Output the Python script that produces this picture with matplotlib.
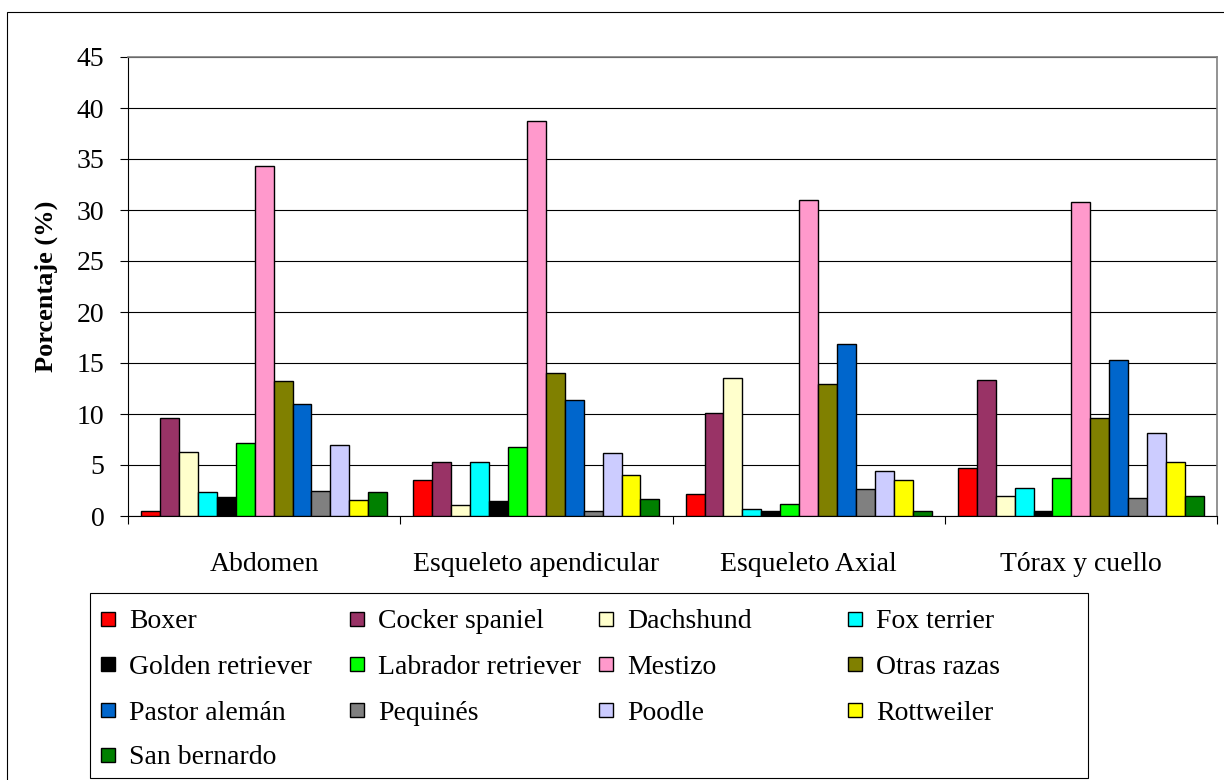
import matplotlib
matplotlib.use("Agg")
import matplotlib.pyplot as plt
from matplotlib.patches import Rectangle
import numpy as np

plt.rcParams['font.family'] = ['Liberation Serif', 'DejaVu Serif']

# Regions (x categories)
regions = ["Abdomen", "Esqueleto apendicular", "Esqueleto Axial", "Tórax y cuello"]

# Breeds (series) and their fill colours
breeds = ["Boxer", "Cocker spaniel", "Dachshund", "Fox terrier",
          "Golden retriever", "Labrador retriever", "Mestizo", "Otras razas",
          "Pastor alemán", "Pequinés", "Poodle", "Rottweiler", "San bernardo"]
colors = ["#FF0000", "#993366", "#FFFFCC", "#00FFFF",
          "#000000", "#00FF00", "#FF99CC", "#808000",
          "#0066CC", "#808080", "#CCCCFF", "#FFFF00", "#008000"]

# Percentage per breed, one value per region (same order as `regions`)
boxer = [0.5, 3.5, 2.2, 4.7]
cocker = [9.6, 5.3, 10.1, 13.3]
dachshund = [6.3, 1.1, 13.5, 2.0]
fox_terrier = [2.4, 5.3, 0.7, 2.7]
golden = [1.9, 1.5, 0.5, 0.5]
labrador = [7.2, 6.8, 1.2, 3.7]
mestizo = [34.3, 38.7, 31.0, 30.8]
otras = [13.2, 14.0, 12.9, 9.6]
pastor = [11.0, 11.4, 16.9, 15.3]
pequines = [2.5, 0.5, 2.6, 1.8]
poodle = [7.0, 6.2, 4.4, 8.1]
rottweiler = [1.6, 4.0, 3.5, 5.3]
san_bernardo = [2.4, 1.7, 0.5, 2.0]

series = [boxer, cocker, dachshund, fox_terrier, golden, labrador, mestizo,
          otras, pastor, pequines, poodle, rottweiler, san_bernardo]

y_ticks = [0, 5, 10, 15, 20, 25, 30, 35, 40, 45]

W, H = 1224, 780
fig = plt.figure(figsize=(W / 100, H / 100), dpi=100)

# outer frame around the chart
fig.patches.append(Rectangle((7 / W, -0.02), 1.05, (H - 12) / H + 0.02,
                             transform=fig.transFigure, fill=False,
                             edgecolor="black", linewidth=0.8))

ax = fig.add_axes([128 / W, (H - 516) / H, 1089 / W, 459 / H])

n = len(series)
bw = 0.0695
centers = np.arange(len(regions)) + 0.5
for j, (vals, col, name) in enumerate(zip(series, colors, breeds)):
    ax.bar(centers + (j - (n - 1) / 2) * bw, vals, width=bw, color=col,
           edgecolor="black", linewidth=1.0, label=name, zorder=3)

ax.set_xlim(0, len(regions))
ax.set_ylim(0, 45)
ax.set_yticks(y_ticks)
ax.yaxis.grid(True, color="black", linewidth=0.8, zorder=0)
ax.set_axisbelow(True)

# category boundaries as major ticks, names at the minor (centre) ticks
ax.set_xticks(np.arange(len(regions) + 1))
ax.set_xticklabels([])
ax.set_xticks(centers, minor=True)
ax.set_xticklabels(regions, minor=True, fontsize=20)
ax.tick_params(axis="x", which="major", direction="out", length=6, width=0.8)
ax.tick_params(axis="x", which="minor", length=0, pad=26)
ax.tick_params(axis="y", direction="out", length=6, width=0.8, pad=11,
               labelsize=20)

for s in ("top", "right"):
    ax.spines[s].set_color("#808080")
    ax.spines[s].set_linewidth(1.2)
for s in ("left", "bottom"):
    ax.spines[s].set_color("black")
    ax.spines[s].set_linewidth(0.8)

ax.set_ylabel("Porcentaje (%)", fontsize=19, fontweight="bold")
ax.yaxis.set_label_coords(-0.064, 0.5)

# legend box: 4 columns, evenly spaced
fig.patches.append(Rectangle((90 / W, (H - 778) / H), 998 / W, 185 / H,
                             transform=fig.transFigure, fill=False,
                             edgecolor="black", linewidth=0.8))
col_x = [101, 350, 599, 848]
row_y = [619, 664, 710, 755]
sq = 14
for k, (name, col) in enumerate(zip(breeds, colors)):
    r, c = divmod(k, 4)
    x0, yc = col_x[c], row_y[r]
    fig.patches.append(Rectangle((x0 / W, (H - yc - sq / 2) / H), sq / W, sq / H,
                                 transform=fig.transFigure, facecolor=col,
                                 edgecolor="black", linewidth=1.0))
    fig.text((x0 + 28) / W, (H - yc) / H, name, fontsize=20,
             ha="left", va="center_baseline")

fig.savefig("out.png", dpi=100)
